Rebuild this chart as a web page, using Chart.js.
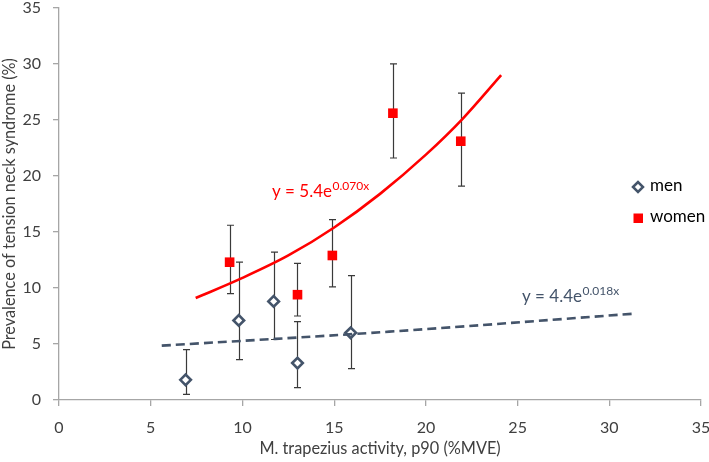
<!DOCTYPE html>
<html>
<head>
<meta charset="utf-8">
<script src="https://cdn.jsdelivr.net/npm/chart.js@4.4.1/dist/chart.umd.min.js"></script>
<style>
  html, body { margin: 0; padding: 0; background: #fff; }
  #wrap { width: 709px; height: 462px; }
</style>
</head>
<body>
<div id="wrap"><canvas id="c" width="709" height="462"></canvas></div>
<script>
// ---- data ----
const menX      = [6.9, 9.8, 11.7, 13.0, 15.9];
const menY      = [1.8, 7.1, 8.8, 3.3, 6.0];
const menLow    = [0.5, 3.6, 5.4, 1.1, 2.8];
const menHigh   = [4.5, 12.3, 13.2, 7.0, 11.1];

const womenX    = [9.3, 13.0, 14.9, 18.2, 21.9];
const womenY    = [12.3, 9.4, 12.9, 25.6, 23.1];
const womenLow  = [9.5, 7.5, 10.1, 21.6, 19.1];
const womenHigh = [15.6, 12.2, 16.1, 30.0, 27.4];

// trendline points
const womenTrendX = [7.45, 10, 12.5, 15, 17.5, 20, 22, 24.1];
const womenTrendY = [9.1, 10.9, 12.9, 15.4, 18.4, 21.9, 25.1, 29.0];
const menTrendX   = [5.6, 18.0, 31.3];
const menTrendY   = [4.85, 6.1, 7.7];

const xTicks = [0, 5, 10, 15, 20, 25, 30, 35];
const yTicks = [0, 5, 10, 15, 20, 25, 30, 35];

const seriesNames = ['men', 'women'];
const eqWomen = { base: 'y = 5.4e', sup: '0.070x' };
const eqMen   = { base: 'y = 4.4e', sup: '0.018x' };

// ---- styles ----
const MEN_COLOR = '#44546A';
const WOMEN_COLOR = '#FF0000';
const AXIS_COLOR = '#A6A6A6';
const TEXT_COLOR = '#404040';
const FONT = 'Lato';

const pts = (xs, ys) => xs.map((x, i) => ({ x: x, y: ys[i] }));

const errorBarPlugin = {
  id: 'errorBars',
  beforeDatasetsDraw(chart) {
    const ctx = chart.ctx;
    const xs = chart.scales.x, ys = chart.scales.y;
    const sets = [[menX, menLow, menHigh], [womenX, womenLow, womenHigh]];
    ctx.save();
    ctx.strokeStyle = '#3a3a3a';
    ctx.lineWidth = 1.2;
    sets.forEach(([X, L, H]) => {
      X.forEach((x, i) => {
        const px = Math.round(xs.getPixelForValue(x)) + 0.5;
        const pl = ys.getPixelForValue(L[i]);
        const ph = ys.getPixelForValue(H[i]);
        ctx.beginPath();
        ctx.moveTo(px, pl); ctx.lineTo(px, ph);
        ctx.moveTo(px - 3.5, pl); ctx.lineTo(px + 3.5, pl);
        ctx.moveTo(px - 3.5, ph); ctx.lineTo(px + 3.5, ph);
        ctx.stroke();
      });
    });
    ctx.restore();
  }
};

function drawEq(ctx, eq, x, y, color) {
  ctx.fillStyle = color;
  ctx.textBaseline = 'alphabetic';
  ctx.textAlign = 'left';
  ctx.font = '17px ' + FONT;
  ctx.fillText(eq.base, x, y);
  const w = ctx.measureText(eq.base).width;
  ctx.font = '12px ' + FONT;
  ctx.fillText(eq.sup, x + w + 0.5, y - 7);
}

const annotPlugin = {
  id: 'annot',
  afterDraw(chart) {
    const ctx = chart.ctx;
    ctx.save();
    drawEq(ctx, eqWomen, 272, 197, WOMEN_COLOR);
    drawEq(ctx, eqMen, 522, 302, MEN_COLOR);

    // legend
    const dx = 638, dy = 187;
    ctx.beginPath();
    ctx.moveTo(dx - 5, dy); ctx.lineTo(dx, dy - 5); ctx.lineTo(dx + 5, dy); ctx.lineTo(dx, dy + 5); ctx.closePath();
    ctx.fillStyle = '#fff'; ctx.fill();
    ctx.strokeStyle = MEN_COLOR; ctx.lineWidth = 2.5; ctx.stroke();
    ctx.fillStyle = WOMEN_COLOR;
    ctx.fillRect(633.5, 213.5, 9.5, 9.5);
    ctx.fillStyle = '#000';
    ctx.font = '17px ' + FONT;
    ctx.textBaseline = 'middle';
    ctx.fillText(seriesNames[0], 650, 186);
    ctx.fillText(seriesNames[1], 650, 217);
    ctx.restore();
  }
};

new Chart(document.getElementById('c'), {
  type: 'scatter',
  data: {
    datasets: [
      {
        label: 'men trend', type: 'line', data: pts(menTrendX, menTrendY),
        borderColor: MEN_COLOR, borderWidth: 2.6, borderDash: [9, 5],
        pointRadius: 0, fill: false, tension: 0.4, order: 0
      },
      {
        label: 'women trend', type: 'line', data: pts(womenTrendX, womenTrendY),
        borderColor: WOMEN_COLOR, borderWidth: 2.6,
        pointRadius: 0, fill: false, cubicInterpolationMode: 'monotone', order: 0
      },
      {
        label: seriesNames[0], data: pts(menX, menY),
        pointStyle: 'rectRot', pointRadius: 5.3, pointBorderWidth: 2.6,
        borderColor: MEN_COLOR, backgroundColor: '#ffffff', order: 1
      },
      {
        label: seriesNames[1], data: pts(womenX, womenY),
        pointStyle: 'rect', pointRadius: 6.8, pointBorderWidth: 0,
        borderColor: WOMEN_COLOR, backgroundColor: WOMEN_COLOR, order: 1
      }
    ]
  },
  options: {
    responsive: false,
    animation: false,
    events: [],
    layout: { padding: { top: 6, right: 6, left: 0, bottom: 0 } },
    plugins: { legend: { display: false }, tooltip: { enabled: false } },
    scales: {
      x: {
        type: 'linear', min: 0, max: 35,
        afterBuildTicks: s => { s.ticks = xTicks.map(v => ({ value: v })); },
        afterFit: s => { s.height = 62; s.paddingLeft = 0; s.paddingRight = 0; },
        ticks: { color: TEXT_COLOR, font: { family: FONT, size: 16 }, padding: 12, maxRotation: 0 },
        grid: { drawOnChartArea: false, color: AXIS_COLOR, tickLength: 6, lineWidth: 1.3 },
        border: { color: AXIS_COLOR, width: 1.3 },
        title: { display: true, text: 'M. trapezius activity, p90 (%MVE)', color: TEXT_COLOR,
                 font: { family: FONT, size: 16.3 }, padding: { top: 0, bottom: 3 } }
      },
      y: {
        type: 'linear', min: 0, max: 35,
        afterBuildTicks: s => { s.ticks = yTicks.map(v => ({ value: v })); },
        afterFit: s => { s.width = 59; s.paddingTop = 0; s.paddingBottom = 0; },
        ticks: { color: TEXT_COLOR, font: { family: FONT, size: 16 }, padding: 12 },
        grid: { drawOnChartArea: false, color: AXIS_COLOR, tickLength: 6, lineWidth: 1.3 },
        border: { color: AXIS_COLOR, width: 1.3 },
        title: { display: true, text: 'Prevalence of tension neck syndrome (%)', color: TEXT_COLOR,
                 font: { family: FONT, size: 16.3 }, padding: { top: 0, bottom: 0 } }
      }
    }
  },
  plugins: [errorBarPlugin, annotPlugin]
});
</script>
</body>
</html>
